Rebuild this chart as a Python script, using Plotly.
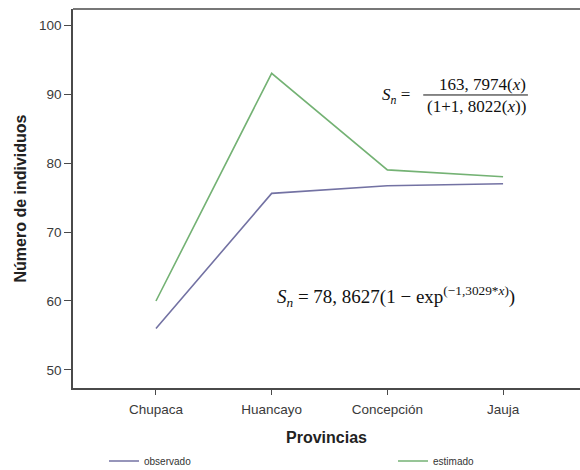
import plotly.graph_objects as go

# Species richness by province: observed vs. estimated
provincias = ["Chupaca", "Huancayo", "Concepción", "Jauja"]
observado = [56.0, 75.6, 76.7, 77.0]
estimado = [60.0, 93.0, 79.0, 78.0]
y_ticks = [50, 60, 70, 80, 90, 100]

C_OBS = "#7372a3"
C_EST = "#74b274"
C_AXIS = "#4a4a4a"
SANS = "Liberation Sans, Arial, sans-serif"
SERIF = "Liberation Serif, Times New Roman, serif"

fig = go.Figure()
fig.add_trace(go.Scatter(x=provincias, y=observado, mode="lines", name="observado",
                         line=dict(color=C_OBS, width=1.6), legend="legend"))
fig.add_trace(go.Scatter(x=provincias, y=estimado, mode="lines", name="estimado",
                         line=dict(color=C_EST, width=1.6), legend="legend2"))

fig.update_xaxes(
    type="category", range=[-0.717, 3.665],
    showline=True, linecolor=C_AXIS, linewidth=1.6,
    ticks="outside", ticklen=5, tickwidth=1.2, tickcolor=C_AXIS,
    ticklabelstandoff=3,
    tickfont=dict(family=SANS, size=13.5, color="#3a3a3a"),
    showgrid=False, zeroline=False,
    title=dict(text="<b>Provincias</b>", font=dict(family=SANS, size=16, color="#222"),
               standoff=17),
)
fig.update_yaxes(
    range=[47.39, 102.32], tickvals=y_ticks,
    showline=True, linecolor=C_AXIS, linewidth=1.6,
    ticks="outside", ticklen=7, tickwidth=1.2, tickcolor=C_AXIS,
    tickfont=dict(family=SANS, size=13.5, color="#3a3a3a"),
    showgrid=False, zeroline=False,
    title=dict(text="<b>Número de individuos</b>", font=dict(family=SANS, size=16, color="#222"),
               standoff=8),
)

# top frame line
fig.add_shape(type="line", xref="paper", yref="paper", x0=0, x1=1, y0=1, y1=1,
              line=dict(color=C_AXIS, width=1.6))

# rational (Michaelis-Menten type) model
fig.add_annotation(x=2.215, y=89.71, xanchor="right", yanchor="middle", showarrow=False,
                   text="<i>S</i><sub><i>n</i></sub> =",
                   font=dict(family=SERIF, size=17, color="#111"))
fig.add_annotation(x=2.82, y=91.45, xanchor="center", yanchor="middle", showarrow=False,
                   text="163, 7974(<i>x</i>)",
                   font=dict(family=SERIF, size=17, color="#111"))
fig.add_shape(type="line", x0=2.31, x1=3.215, y0=89.86, y1=89.86, xref="x", yref="y",
              line=dict(color="#111", width=1))
fig.add_annotation(x=2.77, y=88.12, xanchor="center", yanchor="middle", showarrow=False,
                   text="(1+1, 8022(<i>x</i>))",
                   font=dict(family=SERIF, size=17, color="#111"))

# exponential model
fig.add_annotation(x=1.029, y=60.6, xanchor="left", yanchor="middle", showarrow=False,
                   text="<i>S</i><sub><i>n</i></sub> = 78, 8627(1 − exp<sup>(−1,3029*<i>x</i>)</sup>)",
                   font=dict(family=SERIF, size=19, color="#111"))

legend_common = dict(orientation="h", xref="container", yref="container",
                     xanchor="left", yanchor="middle",
                     font=dict(family=SANS, size=10, color="#333"),
                     bgcolor="rgba(0,0,0,0)")

fig.update_layout(
    width=580, height=470,
    margin=dict(l=73, r=0, t=9, b=82),
    paper_bgcolor="white", plot_bgcolor="white",
    showlegend=True,
    legend=dict(x=104 / 580, y=1 - 461 / 470, **legend_common),
    legend2=dict(x=393 / 580, y=1 - 461 / 470, **legend_common),
)

fig.write_html("out.html")
